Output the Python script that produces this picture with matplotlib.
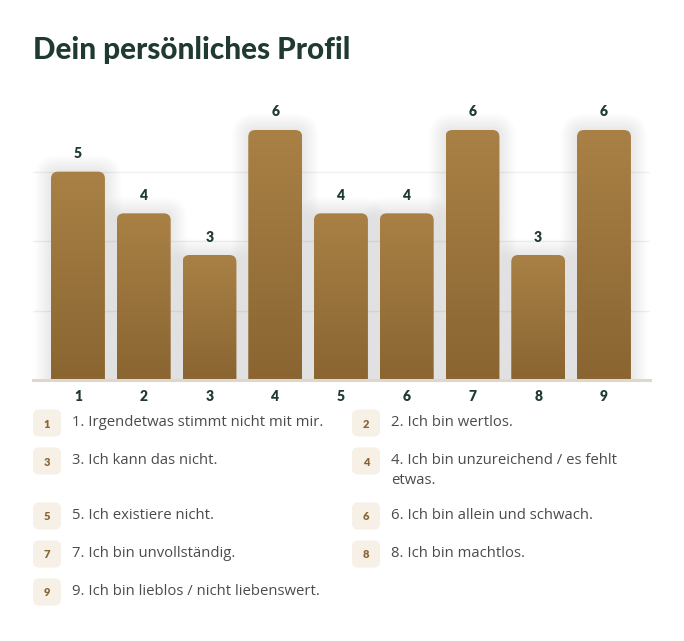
import numpy as np
import matplotlib
matplotlib.use("Agg")
import matplotlib.pyplot as plt
from matplotlib.patches import FancyBboxPatch
from matplotlib.colors import LinearSegmentedColormap

# Daten
categories = ["1", "2", "3", "4", "5", "6", "7", "8", "9"]
values = [5, 4, 3, 6, 4, 4, 6, 3, 6]
descriptions = [
    "1. Irgendetwas stimmt nicht mit mir.",
    "2. Ich bin wertlos.",
    "3. Ich kann das nicht.",
    "4. Ich bin unzureichend / es fehlt\netwas.",
    "5. Ich existiere nicht.",
    "6. Ich bin allein und schwach.",
    "7. Ich bin unvollständig.",
    "8. Ich bin machtlos.",
    "9. Ich bin lieblos / nicht liebenswert.",
]
title = "Dein persönliches Profil"

DARK = "#1f3a2e"
BROWN_TOP = "#a98146"
BROWN_BOT = "#8a6531"
BADGE = "#f6f0e6"
TEXT = "#4b4b4b"
HEAD_FONT = ["Lato", "DejaVu Sans"]
BODY_FONT = ["Open Sans", "DejaVu Sans"]

W, H = 684, 641
fig = plt.figure(figsize=(W / 100, H / 100), dpi=100)
fig.patch.set_facecolor("white")

# Balkendiagramm (Pixelrahmen: links 33, rechts 650, oben 100, unten 380)
ax = fig.add_axes([33 / W, (H - 380) / H, (650 - 33) / W, 280 / H])
x = np.arange(1, len(values) + 1)
ax.set_xlim(0.316, 9.70)
ax.set_ylim(0, 6.72)

bars = ax.bar(x, values, width=0.82, color="none")

ax.yaxis.set_ticks(np.arange(1, 4) * 5 / 3)
ax.yaxis.grid(True, color="#f3f0eb", lw=1)
ax.set_axisbelow(True)
ax.tick_params(axis="y", left=False, labelleft=False)
for s in ax.spines.values():
    s.set_visible(False)
ax.axhline(0, color="#ddd7ce", lw=2.2, zorder=5, clip_on=False)

ax.set_xticks(x)
ax.set_xticklabels(categories, fontfamily=HEAD_FONT, fontweight="heavy",
                   fontsize=10, color=DARK)
ax.tick_params(axis="x", length=0, pad=7)

fig.canvas.draw()
# Pixel pro Dateneinheit -> Radius und Seitenverhältnis
p0 = ax.transData.transform((0, 0))
p1 = ax.transData.transform((1, 1))
px_x = p1[0] - p0[0]
px_y = p1[1] - p0[1]
radius = 7 / px_x
aspect = px_x / px_y

cmap = LinearSegmentedColormap.from_list("bar", [BROWN_BOT, BROWN_TOP])
grad = np.linspace(0, 1, 256).reshape(-1, 1)

for b, v in zip(bars, values):
    bx, bw = b.get_x(), b.get_width()
    # weicher Schatten
    for k in range(1, 12):
        ex = k * 1.5 / px_x
        ey = k * 1.5 / px_y
        sh = FancyBboxPatch((bx - ex, -0.5), bw + 2 * ex, v + 0.5 + ey,
                            boxstyle=f"round,pad=0,rounding_size={radius + ex}",
                            mutation_aspect=aspect, fc="#5a5248", ec="none",
                            alpha=0.006, zorder=1)
        ax.add_patch(sh)
    patch = FancyBboxPatch((bx, -0.5), bw, v + 0.5,
                           boxstyle=f"round,pad=0,rounding_size={radius}",
                           mutation_aspect=aspect, fc="none", ec="none", zorder=2)
    ax.add_patch(patch)
    im = ax.imshow(grad, extent=(bx, bx + bw, 0, v), origin="lower",
                   cmap=cmap, aspect="auto", zorder=2, interpolation="bicubic")
    im.set_clip_path(patch)
    ax.text(b.get_x() + bw / 2, v + 18 / px_y, str(v), ha="center", va="center",
            fontfamily=HEAD_FONT, fontweight="heavy", fontsize=10, color=DARK)

ax.set_xlim(0.316, 9.70)
ax.set_ylim(0, 6.72)

# Überlagerung in Pixelkoordinaten für Titel und Legende
ov = fig.add_axes([0, 0, 1, 1], zorder=10)
ov.set_xlim(0, W)
ov.set_ylim(H, 0)
ov.axis("off")
ov.patch.set_alpha(0)

ov.text(33, 50, title, ha="left", va="center", fontfamily=HEAD_FONT,
        fontweight="black", fontsize=21.3, color=DARK)

col_x = [33, 352]
y = 423
for row in range(0, len(descriptions), 2):
    extra = 0
    for col in range(2):
        i = row + col
        if i >= len(descriptions):
            continue
        bx = col_x[col]
        badge = FancyBboxPatch((bx, y - 13.5), 28, 27,
                               boxstyle="round,pad=0,rounding_size=6",
                               fc=BADGE, ec="none")
        ov.add_patch(badge)
        ov.text(bx + 14, y + 1, categories[i], ha="center", va="center",
                fontfamily=HEAD_FONT, fontweight="heavy", fontsize=8,
                color=BROWN_BOT)
        ov.text(bx + 39, y - 8, descriptions[i], ha="left", va="top",
                fontfamily=BODY_FONT, fontsize=10.75, color=TEXT,
                linespacing=1.5)
        extra = max(extra, descriptions[i].count("\n"))
    y += 38 + 17 * extra

fig.savefig("out.png", dpi=100, facecolor="white")
